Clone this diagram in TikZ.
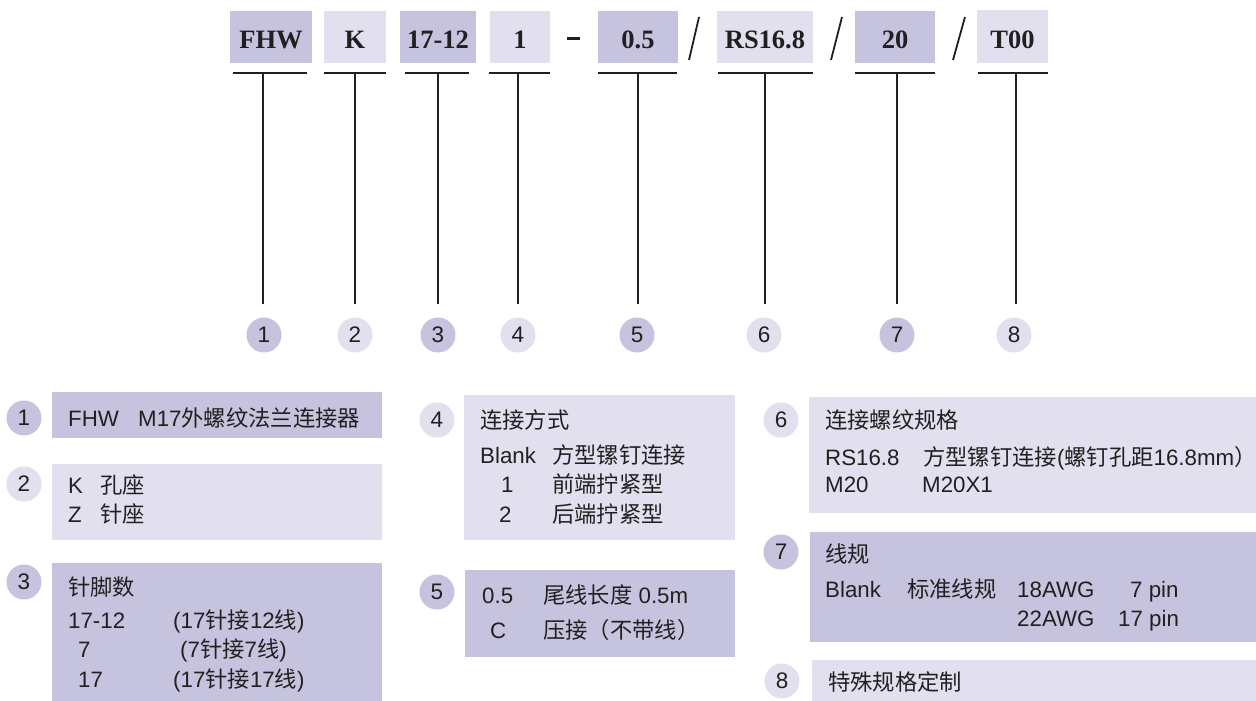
\documentclass[tikz,border=0pt]{standalone}
\usepackage{fontspec}
\setmainfont{Liberation Sans}
\newfontfamily\cjk{Noto Sans CJK SC}
\newfontfamily\tms{Liberation Serif}
\definecolor{dk}{RGB}{198,195,222}
\definecolor{lt}{RGB}{226,224,239}
\definecolor{ink}{RGB}{35,31,32}
\begin{document}
\begin{tikzpicture}[x=1pt,y=-1pt,
  topbox/.style={inner sep=0pt, minimum height=52pt, text height=24pt, text depth=0pt,
    font=\tms\bfseries\fontsize{26.5}{30}\selectfont, text=ink},
  num/.style={circle, inner sep=0pt, minimum size=35pt, font=\fontsize{22.5}{26}\selectfont, text=ink},
  panel/.style={inner sep=0pt, anchor=north west},
  txt/.style={anchor=base west, inner sep=0pt, font=\fontsize{22.3}{26}\selectfont, text=ink},
  conn/.style={draw=ink, line width=1.1pt},
  sep/.style={draw=ink, line width=1.8pt}]
\useasboundingbox (0,0) rectangle (1256,701);

% ---- top code boxes
\node[topbox, fill=dk, minimum width=82pt] (t1) at (271,37) {FHW};
\node[topbox, fill=lt, minimum width=62pt] (t2) at (355,37) {K};
\node[topbox, fill=dk, minimum width=76pt] (t3) at (438,37) {17-12};
\node[topbox, fill=lt, minimum width=60pt] (t4) at (520,37) {1};
\node[topbox, fill=dk, minimum width=80pt] (t5) at (638,37) {0.5};
\node[topbox, fill=lt, minimum width=96pt] (t6) at (765,37) {RS16.8};
\node[topbox, fill=dk, minimum width=80pt] (t7) at (895,37) {20};
\node[topbox, fill=lt, minimum width=71pt, minimum height=53pt] (t8) at (1012.5,36.5) {T00};

% separators
\draw[sep, line width=2.8pt] (567,38.5) -- (580,38.5);
\draw[sep] (699,17) -- (689,60);
\draw[sep] (842,17) -- (831,60);
\draw[sep] (965,17) -- (953,60);

% underlines
\draw[conn] (233,73) -- (307,73);
\draw[conn] (324,73) -- (386,73);
\draw[conn] (405,73) -- (469,73);
\draw[conn] (489,73) -- (550,73);
\draw[conn] (598,73) -- (677,73);
\draw[conn] (718,73) -- (813,73);
\draw[conn] (855,73) -- (935,73);
\draw[conn] (978,73) -- (1048,73);
\coordinate (u1) at (263,73);
\coordinate (u2) at (355,73);
\coordinate (u3) at (438,73);
\coordinate (u4) at (518,73);
\coordinate (u5) at (638,73);
\coordinate (u6) at (765,73);
\coordinate (u7) at (897,73);
\coordinate (u8) at (1016,73);

% number circles
\node[num, fill=dk] (c1) at (264,335) {1};
\node[num, fill=lt] (c2) at (355,335) {2};
\node[num, fill=dk] (c3) at (438,335) {3};
\node[num, fill=lt] (c4) at (518,335) {4};
\node[num, fill=dk] (c5) at (637,335) {5};
\node[num, fill=lt] (c6) at (764,335) {6};
\node[num, fill=dk] (c7) at (897,335) {7};
\node[num, fill=lt] (c8) at (1014,335) {8};

\foreach \i in {1,...,8}{
  \draw[conn, shorten >=13pt] (u\i) -- (u\i |- c\i.north);
}

% ---- panels
\node[panel, fill=dk, minimum width=330pt, minimum height=46pt] (p1) at (52,392) {};
\node[panel, fill=lt, minimum width=330pt, minimum height=76pt] (p2) at (52,464) {};
\node[panel, fill=dk, minimum width=330pt, minimum height=138pt] (p3) at (52,563) {};
\node[panel, fill=lt, minimum width=271pt, minimum height=145pt] (p4) at (464,395) {};
\node[panel, fill=dk, minimum width=270pt, minimum height=87pt] (p5) at (465,570) {};
\node[panel, fill=lt, minimum width=447pt, minimum height=116pt] (p6) at (809,397) {};
\node[panel, fill=dk, minimum width=446pt, minimum height=110pt] (p7) at (810,532) {};
\node[panel, fill=lt, minimum width=444pt, minimum height=41pt] (p8) at (812,660) {};

\node[num, fill=dk] (q1) at (24,418) {1};
\node[num, fill=lt] (q2) at (24,484) {2};
\node[num, fill=dk] (q3) at (24,582) {3};
\node[num, fill=lt] (q4) at (437,420) {4};
\node[num, fill=dk] (q5) at (437,592) {5};
\node[num, fill=lt] (q6) at (781,420) {6};
\node[num, fill=dk] (q7) at (781,552) {7};
\node[num, fill=lt] (q8) at (782,681) {8};

% panel 1
\node[txt] (a1) at (68,426) {FHW};
\node[txt] (a2) at (138,426) {M17{\cjk 外螺纹法兰连接器}};
% panel 2
\node[txt] (b1) at (68,493) {K};
\node[txt] (b2) at (100,493) {\cjk 孔座};
\node[txt] (b3) at (68,522) {Z};
\node[txt] (b4) at (100,522) {\cjk 针座};
% panel 3
\node[txt] (d1) at (68,595) {\cjk 针脚数};
\node[txt] (d2) at (68,628) {17-12};
\node[txt] (d3) at (173,628) {(17{\cjk 针接}12{\cjk 线})};
\node[txt] (d4) at (78,657) {7};
\node[txt] (d5) at (180,657) {(7{\cjk 针接}7{\cjk 线})};
\node[txt] (d6) at (78,687) {17};
\node[txt] (d7) at (173,687) {(17{\cjk 针接}17{\cjk 线})};
% panel 4
\node[txt] (e1) at (480,428) {\cjk 连接方式};
\node[txt] (e2) at (480,463) {Blank};
\node[txt] (e3) at (552,463) {\cjk 方型镙钉连接};
\node[txt] (e4) at (501,492) {1};
\node[txt] (e5) at (552,492) {\cjk 前端拧紧型};
\node[txt] (e6) at (499,522) {2};
\node[txt] (e7) at (552,522) {\cjk 后端拧紧型};
% panel 5
\node[txt] (f1) at (482,603) {0.5};
\node[txt] (f2) at (543,603) {{\cjk 尾线长度} 0.5m};
\node[txt] (f3) at (490,638) {C};
\node[txt] (f4) at (543,638) {\cjk 压接（不带线）};
% panel 6
\node[txt] (g1) at (825,428) {\cjk 连接螺纹规格};
\node[txt] (g2) at (825,465) {RS16.8};
\node[txt] (g3) at (923,465) {{\cjk 方型镙钉连接}({\cjk 螺钉孔距}16.8mm{\cjk ）}};
\node[txt] (g4) at (825,492) {M20};
\node[txt] (g5) at (922,492) {M20X1};
% panel 7
\node[txt] (h1) at (825,562) {\cjk 线规};
\node[txt] (h2) at (825,597) {Blank};
\node[txt] (h3) at (907,597) {\cjk 标准线规};
\node[txt] (h4) at (1017,597) {18AWG};
\node[txt] (h5) at (1130,597) {7 pin};
\node[txt] (h6) at (1017,626) {22AWG};
\node[txt] (h7) at (1118,626) {17 pin};
% panel 8
\node[txt] (k1) at (828,690) {\cjk 特殊规格定制};
\end{tikzpicture}
\end{document}
